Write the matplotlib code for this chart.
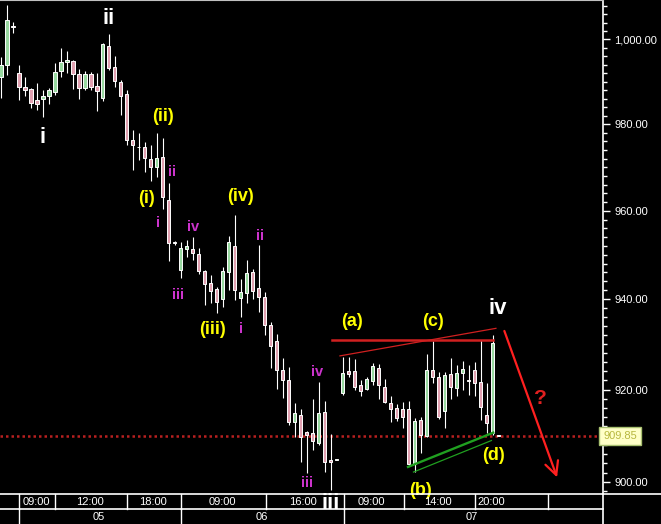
import matplotlib
matplotlib.use("Agg")
import matplotlib.pyplot as plt
import matplotlib.transforms as mtransforms
from matplotlib.patches import Rectangle
from matplotlib.ticker import FixedLocator, FuncFormatter, NullFormatter
import numpy as np

plt.rcParams['font.family'] = ['Liberation Sans', 'DejaVu Sans']

# hourly candles, index 0..83
opens = [991.1, 993.8, 1003.2, 992.0, 988.7, 988.2, 985.7, 985.9, 986.7, 987.6,
         992.4, 994.5, 994.9, 991.8, 988.4, 991.8, 988.9, 986.1, 998.4, 993.5,
         990.0, 987.0, 976.3, 974.8, 974.6, 971.9, 970.0, 972.3, 962.5, 952.8,
         946.6, 951.3, 951.3, 950.2, 946.4, 943.7, 942.2, 940.0, 946.2, 952.0,
         940.2, 941.3, 946.0, 942.4, 940.4, 934.3, 930.6, 924.3, 922.1, 913.0,
         914.5, 910.8, 910.6, 908.4, 915.2, 904.7, 904.7, 919.3, 924.1, 924.1,
         921.0, 920.1, 921.9, 924.8, 920.6, 917.0, 916.0, 915.7, 915.7, 903.8,
         913.4, 909.9, 924.2, 922.7, 915.4, 923.4, 920.3, 923.6, 922.1, 924.3,
         921.7, 914.5, 910.6, 909.85]
highs = [995.8, 1008.1, 1004.1, 993.9, 991.0, 988.4, 989.6, 988.0, 988.4, 994.3,
         997.9, 997.2, 995.1, 993.0, 992.5, 992.3, 992.0, 999.2, 1001.2, 996.1,
         990.4, 988.0, 978.6, 977.9, 975.9, 975.2, 978.0, 976.7, 966.3, 953.2,
         952.8, 953.4, 954.1, 951.5, 946.6, 945.5, 942.8, 947.3, 954.3, 959.0,
         944.5, 948.8, 946.8, 952.1, 941.7, 934.8, 932.3, 926.9, 924.9, 917.1,
         915.7, 910.9, 917.9, 921.7, 917.6, 910.4, 904.8, 927.1, 927.1, 926.8,
         922.1, 922.8, 925.8, 925.5, 922.4, 918.6, 916.8, 917.3, 917.6, 913.7,
         913.9, 927.8, 930.8, 923.9, 923.9, 926.9, 925.3, 926.2, 925.3, 926.1,
         930.9, 921.5, 932.0, 909.9]
lows = [986.1, 991.6, 1001.5, 985.7, 986.6, 983.7, 983.3, 981.6, 984.7, 986.9,
        991.0, 992.0, 988.2, 985.9, 988.0, 988.0, 983.1, 985.4, 992.8, 988.7,
        982.1, 975.2, 969.4, 971.7, 969.0, 966.9, 967.8, 960.4, 948.5, 952.2,
        944.7, 949.6, 948.8, 945.7, 938.7, 939.1, 937.0, 938.3, 942.1, 939.8,
        936.1, 939.1, 940.0, 937.1, 932.1, 924.7, 920.2, 918.1, 912.3, 909.7,
        904.3, 901.8, 906.9, 907.9, 902.1, 898.3, 904.6, 918.8, 922.8, 919.9,
        918.6, 919.9, 921.0, 917.9, 917.0, 913.0, 913.1, 911.6, 903.4, 902.1,
        906.3, 909.6, 921.5, 913.5, 911.6, 917.9, 918.6, 920.0, 918.8, 918.6,
        913.4, 910.5, 910.1, 909.8]
closes = [993.9, 1004.7, 1003.0, 988.8, 987.9, 984.9, 984.7, 986.6, 988.0, 992.2,
          994.6, 995.1, 991.8, 988.4, 991.8, 988.6, 987.8, 998.8, 993.2, 990.2,
          986.5, 976.3, 975.2, 974.6, 972.1, 970.0, 972.1, 963.1, 952.6, 952.6,
          951.5, 952.0, 950.4, 946.4, 943.4, 941.9, 939.4, 946.4, 952.8, 942.1,
          941.7, 945.9, 941.9, 940.5, 934.3, 929.5, 924.3, 922.1, 913.0, 914.8,
          909.7, 910.1, 908.7, 914.9, 904.3, 904.3, 904.7, 923.7, 923.4, 920.5,
          919.7, 922.2, 925.2, 921.0, 917.3, 915.7, 913.7, 914.1, 903.8, 913.2,
          910.1, 924.2, 922.7, 913.9, 923.2, 920.5, 923.7, 924.4, 921.9, 921.5,
          916.1, 912.7, 930.2, 909.85]
last_price = 909.85

# time axis
hour_seps = [3, 9.05, 21.05, 30.05, 44.2, 57.2, 67.2, 79.1, 91.2]
hour_labels = ['09:00', '12:00', '18:00', '09:00', '16:00', '09:00', '14:00', '20:00']
hour_pos = [5.9, 14.8, 25.4, 36.9, 50.4, 61.8, 72.9, 81.8]
day_seps = [3, 30.05, 57.2]
day_labels = ['05', '06', '07']
day_pos = [16.3, 43.5, 78.6]

# wave labels: text, candle index, price, colour, size
waves = [
    ('i', 6.9, 977.0, 'white', 16), ('ii', 18.05, 1005.0, 'white', 16),
    ('iii', 55.05, 895.4, 'white', 16), ('iv', 82.8, 938.0, 'white', 16),
    ('(i)', 24.3, 962.9, '#ffff00', 13), ('(ii)', 27.1, 981.7, '#ffff00', 13),
    ('(iii)', 35.3, 933.2, '#ffff00', 13), ('(iv)', 39.9, 963.2, '#ffff00', 13),
    ('(a)', 58.5, 935.0, '#ffff00', 13), ('(b)', 70.05, 898.2, '#ffff00', 13),
    ('(c)', 72.1, 935.0, '#ffff00', 13), ('(d)', 82.1, 905.6, '#ffff00', 13),
    ('i', 26.3, 957.2, '#cc33cc', 10.5), ('ii', 28.5, 969.0, '#cc33cc', 10.5),
    ('iii', 29.6, 940.9, '#cc33cc', 10.5), ('iv', 32.1, 956.2, '#cc33cc', 10.5),
    ('i', 40.0, 933.4, '#cc33cc', 10.5), ('ii', 43.2, 954.3, '#cc33cc', 10.5),
    ('iii', 51.0, 899.8, '#cc33cc', 10.5), ('iv', 52.7, 923.9, '#cc33cc', 10.5),
]

fig = plt.figure(figsize=(6.61, 5.24), dpi=100, facecolor='black')
ax = fig.add_axes([0, 30 / 524, 603 / 661, 494 / 524], facecolor='black')

# candles
idx = np.arange(len(opens))
ax.vlines(idx, lows, highs, color='white', lw=0.8, zorder=2)
for i in idx:
    o, c = opens[i], closes[i]
    fc = '#98d8a0' if c >= o else '#e0a0b0'
    lo, hi = min(o, c), max(o, c)
    ax.add_patch(Rectangle((i - 0.3, lo), 0.6, max(hi - lo, 0.15),
                           facecolor=fc, edgecolor='white', lw=0.7, zorder=3))

ax.set_yscale('log')
ax.set_xlim(-0.12, 100.4)
ax.set_ylim(897.4, 1009.4)

# last price line
ax.axhline(last_price, color='#b82020', lw=1.8, linestyle=(0, (1, 1.2)), zorder=1)

# trend lines
ax.plot([55.2, 82.1], [931.0, 931.0], color='#d02020', lw=1.8, zorder=4)
ax.plot([56.55, 82.55], [927.4, 933.5], color='#d02020', lw=0.9, zorder=4)
ax.plot([67.9, 82.1], [903.2, 910.6], color='#20a020', lw=1.7, zorder=4)
ax.plot([68.8, 81.8], [902.1, 908.9], color='#20a020', lw=0.9, zorder=4)
ax.annotate('', xy=(92.9, 900.4), xytext=(83.8, 933.5),
            arrowprops=dict(arrowstyle='->', color='#ff2020', lw=1.6,
                            mutation_scale=24))
ax.text(89.9, 918.1, '?', color='#e02020', fontsize=15, fontweight='bold',
        ha='center', va='center')

for txt, x, y, col, sz in waves:
    ax.text(x, y, txt, color=col, fontsize=sz, fontweight='bold',
            ha='center', va='center', zorder=6)

# price axis on the right
ax.yaxis.tick_right()
ax.yaxis.set_major_locator(FixedLocator([900, 920, 940, 960, 980, 1000]))
ax.yaxis.set_minor_locator(FixedLocator(np.arange(898, 1010, 2)))
ax.yaxis.set_major_formatter(FuncFormatter(lambda v, p: f'{v:,.2f}'))
ax.yaxis.set_minor_formatter(NullFormatter())
ax.tick_params(axis='y', which='major', length=5, width=1, color='white',
               labelcolor='white', labelsize=8, pad=3)
ax.tick_params(axis='y', which='minor', length=3, width=1, color='white')
ax.set_xticks([])
for s in ['left', 'bottom']:
    ax.spines[s].set_visible(False)
ax.spines['right'].set_color('white')
ax.spines['right'].set_linewidth(1.2)
ax.spines['top'].set_color('#c0c0c0')
ax.spines['top'].set_linewidth(0.8)

ax.text(1.0, last_price, '909.85', transform=ax.get_yaxis_transform(),
        ha='left', va='center', fontsize=8, color='#b8b840', zorder=10,
        bbox=dict(boxstyle='square,pad=0.35', facecolor='#ffffc8',
                  edgecolor='#a8c070', lw=1), clip_on=False)

# time axis boxes under the chart
bt = mtransforms.blended_transform_factory(ax.transData, fig.transFigure)
y_top, y_mid, y_bot = 30 / 524, 14.7 / 524, 0.0
fig.add_artist(plt.Line2D([0, 1], [y_top, y_top], color='white', lw=1.2,
                          transform=fig.transFigure))
fig.add_artist(plt.Line2D([0, 603 / 661], [y_mid, y_mid], color='white', lw=1.2,
                          transform=fig.transFigure))
fig.add_artist(plt.Line2D([603 / 661, 603 / 661], [0, y_top], color='white', lw=1.2,
                          transform=fig.transFigure))
for s in hour_seps:
    fig.add_artist(plt.Line2D([s, s], [y_mid, y_top], color='white', lw=1.0,
                              transform=bt))
for s in day_seps:
    fig.add_artist(plt.Line2D([s, s], [y_bot, y_mid], color='white', lw=1.0,
                              transform=bt))
for lab, p in zip(hour_labels, hour_pos):
    fig.text(p, (y_mid + y_top) / 2, lab, transform=bt, color='white',
             fontsize=8, ha='center', va='center')
for lab, p in zip(day_labels, day_pos):
    fig.text(p, y_mid / 2, lab, transform=bt, color='white',
             fontsize=8, ha='center', va='center')

fig.savefig('out.png', dpi=100, facecolor='black')
